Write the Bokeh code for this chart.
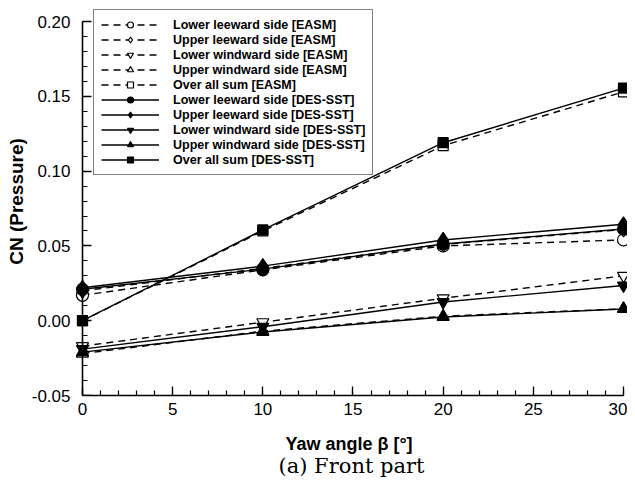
from bokeh.plotting import figure
from bokeh.models import (Range1d, LinearAxis, SingleIntervalTicker, PrintfTickFormatter,
                          CustomJSTickFormatter, Legend, LegendItem, Title)
from bokeh.embed import file_html
from bokeh.resources import INLINE

# ---- data ----
yaw = [0, 10, 20, 30]

lower_leeward_easm = [0.017, 0.034, 0.050, 0.054]
upper_leeward_easm = [0.020, 0.035, 0.051, 0.061]
lower_windward_easm = [-0.017, -0.001, 0.015, 0.030]
upper_windward_easm = [-0.022, -0.007, 0.003, 0.008]
sum_easm = [0.000, 0.060, 0.117, 0.153]

lower_leeward_des = [0.021, 0.0345, 0.0513, 0.0613]
upper_leeward_des = [0.022, 0.0365, 0.054, 0.0645]
lower_windward_des = [-0.019, -0.004, 0.0125, 0.0235]
upper_windward_des = [-0.021, -0.0075, 0.0025, 0.0078]
sum_des = [0.000, 0.0607, 0.119, 0.1555]

labels = ["Lower leeward side [EASM]", "Upper leeward side [EASM]",
          "Lower windward side [EASM]", "Upper windward side [EASM]",
          "Over all sum [EASM]",
          "Lower leeward side [DES-SST]", "Upper leeward side [DES-SST]",
          "Lower windward side [DES-SST]", "Upper windward side [DES-SST]",
          "Over all sum [DES-SST]"]

x_ticks_interval = 5
y_ticks_interval = 0.05

p = figure(width=627, height=479, output_backend="svg", toolbar_location=None,
           x_range=Range1d(-0.388, 30.222), y_range=Range1d(-0.05, 0.2094),
           x_axis_type=None, y_axis_type=None,
           min_border_left=75, min_border_right=0, min_border_top=7, min_border_bottom=84)
p.outline_line_color = None
p.grid.visible = False
p.background_fill_color = "white"

font = "Liberation Sans"


def style(ax):
    ax.axis_line_width = 1.6
    ax.axis_line_color = "black"
    ax.major_tick_in = 9
    ax.major_tick_out = 0
    ax.minor_tick_in = 5
    ax.minor_tick_out = 0
    ax.major_tick_line_width = 1.3
    ax.minor_tick_line_width = 1.2
    ax.major_tick_line_color = "black"
    ax.minor_tick_line_color = "black"
    ax.major_label_text_font = font
    ax.major_label_text_font_size = "17px"
    ax.major_label_text_color = "black"
    ax.axis_label_text_font = font
    ax.axis_label_text_font_style = "bold"
    ax.axis_label_text_font_size = "18px"
    ax.axis_label_text_color = "black"


xaxis = LinearAxis(ticker=SingleIntervalTicker(interval=x_ticks_interval, num_minor_ticks=5),
                   bounds=(0, 30), axis_label="Yaw angle β  [°]")
style(xaxis)
xaxis.major_label_standoff = 7
xaxis.axis_label_standoff = 16
p.add_layout(xaxis, "below")

# y axis carrying tick labels and title (sits at frame edge, line hidden)
ylab = LinearAxis(ticker=SingleIntervalTicker(interval=y_ticks_interval, num_minor_ticks=5),
                  formatter=PrintfTickFormatter(format="%.2f"),
                  axis_label="CN (Pressure)", bounds=(-0.05, 0.20))
style(ylab)
ylab.axis_label_text_font_size = "19px"
ylab.axis_line_color = None
ylab.major_tick_line_color = None
ylab.minor_tick_line_color = None
ylab.major_label_standoff = 5
ylab.axis_label_standoff = 2
p.add_layout(ylab, "left")

# y axis line with ticks at x = 0
yline = LinearAxis(ticker=SingleIntervalTicker(interval=y_ticks_interval, num_minor_ticks=5),
                   formatter=CustomJSTickFormatter(code="return ''"), fixed_location=0,
                   bounds=(-0.05, 0.20))
style(yline)
yline.major_label_standoff = 0
p.add_layout(yline, "left")

cap = Title(text="(a) Front part", align="center", text_font="DejaVu Serif",
            text_font_size="21px", text_font_style="normal", text_color="black",
            standoff=-9)
p.add_layout(cap, "below")

series = [
    (lower_leeward_easm, "circle", "white", "7 5", 12),
    (upper_leeward_easm, "diamond", "white", "7 5", 15),
    (lower_windward_easm, "inverted_triangle", "white", "7 5", 12),
    (upper_windward_easm, "triangle", "white", "7 5", 12),
    (sum_easm, "square", "white", "7 5", 10),
    (lower_leeward_des, "circle", "black", "solid", 12),
    (upper_leeward_des, "diamond", "black", "solid", 15),
    (lower_windward_des, "inverted_triangle", "black", "solid", 12),
    (upper_windward_des, "triangle", "black", "solid", 12),
    (sum_des, "square", "black", "solid", 10),
]

items = []
for (vals, marker, fill, dash, size), lab in zip(series, labels):
    ln = p.line(yaw, vals, line_color="black", line_width=1.4, line_dash=dash)
    mk = p.scatter(yaw, vals, marker=marker, size=size, fill_color=fill,
                   line_color="black", line_width=1.2)
    items.append(LegendItem(label=lab, renderers=[ln, mk]))

legend = Legend(items=items, location=(18, 220))
legend.label_text_font = font
legend.label_text_font_style = "bold"
legend.label_text_font_size = "12.5px"
legend.label_text_color = "black"
legend.glyph_width = 58
legend.glyph_height = 15
legend.label_height = 15
legend.spacing = 0
legend.padding = 7
legend.margin = 0
legend.label_standoff = 14
legend.border_line_color = "black"
legend.border_line_width = 1.5
legend.background_fill_alpha = 1.0
legend.background_fill_color = "white"
p.add_layout(legend, "center")

open("out.html", "w").write(file_html(p, INLINE))
